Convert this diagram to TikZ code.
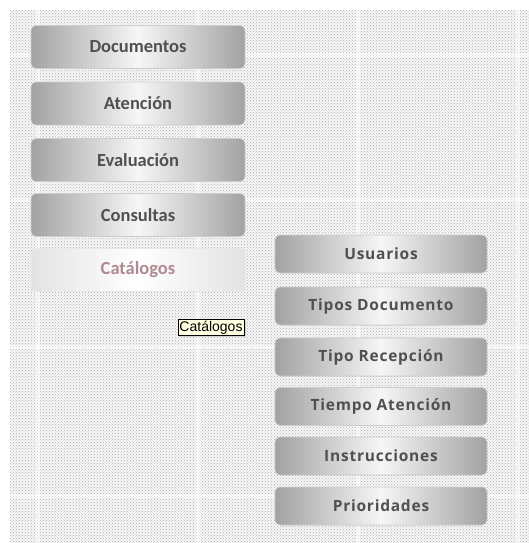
\documentclass[tikz,border=0pt]{standalone}
\usepackage{fontspec}
\usetikzlibrary{patterns,shadows,fadings}
\newfontfamily\btnfont{Carlito}
\newfontfamily\subfont[LetterSpace=5]{Open Sans}
\newfontfamily\tipfont{Liberation Sans}
\definecolor{btntext}{HTML}{505050}
\definecolor{hovertext}{HTML}{B08A92}
\definecolor{tipbg}{HTML}{FFFFE1}
\definecolor{btnedge}{HTML}{A2A2A2}
\definecolor{btnmid}{HTML}{F6F6F6}
\tikzset{
  menubtn/.style={rounded corners=5pt, minimum width=214pt, minimum height=43pt,
    left color=btnedge, right color=btnedge, middle color=btnmid,
    path picture={\fill[gray, path fading=north, fill opacity=0.35]
      (path picture bounding box.south west) rectangle ([yshift=-5pt]path picture bounding box.south east);
      \fill[gray, path fading=south, fill opacity=0.35]
      (path picture bounding box.north west) rectangle ([yshift=5pt]path picture bounding box.north east);},
    draw=gray!40, line width=0.6pt, text=btntext, font=\btnfont\bfseries\fontsize{18.5}{19}\selectfont},
  hoverbtn/.style={menubtn, left color=gray!22, right color=gray!22, middle color=white,
    draw=gray!18, text=hovertext, path picture={}},
  subbtn/.style={menubtn, minimum width=212pt, minimum height=38pt,
    font=\subfont\bfseries\fontsize{15.5}{16}\selectfont},
  tip/.style={draw=black, line width=0.6pt, fill=tipbg, inner sep=1.5pt, font=\tipfont\fontsize{14}{15}\selectfont, text=black},
  gridline/.style={white, line width=3.5pt, opacity=0.5}
}
\begin{document}
\begin{tikzpicture}[x=1pt,y=-1pt]
\useasboundingbox (0,0) rectangle (529,543);
\fill[white] (0,0) rectangle (529,543);
\fill[gray!6] (10,10) rectangle (529,543);
\fill[pattern=crosshatch dots, pattern color=gray!65] (10,10) rectangle (529,543);
% faint grid
\foreach \gx in {38,198,358,518} \draw[gridline] (\gx,10) -- (\gx,543);
\foreach \gy in {55,200,347,496} \draw[gridline] (10,\gy) -- (529,\gy);
% left menu
\node[menubtn] (doc) at (138,47) {Documentos};
\node[menubtn] (ate) at (138,103.5) {Atención};
\node[menubtn] (eva) at (138,160) {Evaluación};
\node[menubtn] (con) at (138,215) {Consultas};
\node[hoverbtn] (cat) at (138,270) {Catálogos};
% submenu
\node[subbtn] (usu) at (381,254) {Usuarios};
\node[subbtn] (tdo) at (381,306) {Tipos Documento};
\node[subbtn] (tre) at (381,357) {Tipo Recepción};
\node[subbtn] (tat) at (381,406.5) {Tiempo Atención};
\node[subbtn] (ins) at (381,456) {Instrucciones};
\node[subbtn] (pri) at (381,506) {Prioridades};
% tooltip
\node[tip, drop shadow={shadow xshift=1.5pt, shadow yshift=-1.5pt, fill=gray!60}] (tt) at (211,327.5) {Catálogos};
\end{tikzpicture}
\end{document}
